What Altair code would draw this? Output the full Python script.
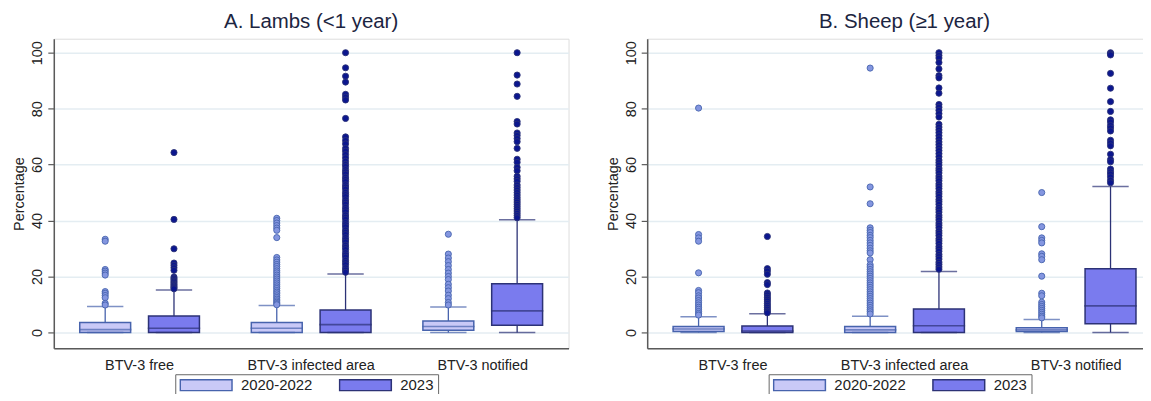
import altair as alt
import pandas as pd

groups = ["BTV-3 free", "BTV-3 infected area", "BTV-3 notified"]
periods = ["2020-2022", "2023"]

# box statistics, order: free 20-22, free 23, infected 20-22, infected 23, notified 20-22, notified 23
a_q1 = [0.0, 0.0, 0.0, 0.0, 0.8, 2.6]
a_med = [1.0, 1.5, 1.5, 2.8, 2.1, 7.7]
a_q3 = [3.5, 5.9, 3.5, 8.0, 4.1, 17.4]
a_lo = [0.0, 0.0, 0.0, 0.0, 0.0, 0.0]
a_hi = [9.3, 15.2, 9.6, 20.9, 9.1, 40.3]

a_out1 = [33.3, 32.6, 22.5, 21.9, 21.2, 20.5, 14.6, 14.0, 13.2, 12.4, 10.4, 9.8]
a_out2 = [64.3, 40.4, 29.9, 24.8, 24.0, 23.1, 22.2, 19.8, 19.3, 18.8, 18.3, 17.8, 17.3, 16.9, 16.4, 16.0, 15.6]
a_out3 = [40.8, 40.0, 39.1, 38.2, 37.3, 36.5, 33.9, 26.8, 25.9, 25.1, 24.3, 23.6, 22.8, 22.0, 21.3, 20.5,
          19.8, 19.1, 18.4, 17.7, 17.0, 16.3, 15.7, 15.0, 14.4, 13.8, 13.1, 12.5, 11.9, 11.3, 10.8, 10.3, 9.9]
a_out4 = [100.0, 94.6, 91.6, 89.5, 85.1, 84.1, 83.1, 76.5, 69.9, 68.6, 67.4, 65.8, 64.8, 63.6, 62.4, 61.2,
          60.1, 59.3, 58.2, 57.4, 56.6, 55.5, 54.7, 53.9, 52.8, 52.0, 51.2, 50.1, 49.3, 48.5, 47.4, 46.6,
          45.8, 44.7, 43.9, 43.1, 42.0, 41.2, 40.4, 39.3, 38.5, 37.7, 36.6, 35.8, 35.0, 33.9, 33.1, 32.3,
          31.2, 30.4, 29.6, 28.5, 27.7, 26.9, 25.8, 25.0, 24.2, 23.1, 22.3, 21.5]
a_out5 = [35.1, 28.0, 26.6, 25.3, 23.9, 22.5, 21.2, 20.0, 18.9, 17.2, 16.0, 14.8, 13.3, 12.1, 10.7, 9.8]
a_out6 = [100.0, 92.0, 88.8, 84.4, 75.4, 74.5, 71.3, 70.4, 69.3, 68.2, 65.8, 61.9, 60.8, 59.0, 57.8, 55.8,
          54.9, 54.0, 52.7, 51.8, 50.9, 50.0, 49.1, 48.2, 47.4, 46.6, 45.8, 45.0, 44.2, 43.4, 42.6, 41.8, 41.0]

b_q1 = [0.3, 0.0, 0.0, 0.0, 0.3, 3.1]
b_med = [1.2, 0.5, 0.9, 2.4, 0.9, 9.5]
b_q3 = [2.1, 2.3, 2.1, 8.4, 1.7, 22.8]
b_lo = [0.0, 0.0, 0.0, 0.0, 0.0, 0.0]
b_hi = [5.6, 6.7, 5.8, 21.8, 4.6, 52.2]

b_out1 = [80.2, 35.0, 33.8, 32.6, 21.3, 15.0, 14.2, 13.1, 12.3, 11.4, 10.6, 9.8, 9.0, 8.3, 7.5, 6.8, 6.2]
b_out2 = [34.3, 22.8, 21.9, 20.8, 17.8, 17.1, 14.1, 13.4, 12.6, 11.9, 11.2, 10.4, 9.7, 9.0, 8.3, 7.6, 7.0]
b_out3 = [94.5, 52.0, 46.0, 37.4, 36.5, 35.7, 34.7, 33.9, 32.9, 32.0, 31.1, 30.1, 29.2, 28.4, 26.0, 24.2,
          23.4, 22.5, 21.7, 20.9, 20.1, 19.3, 18.5, 17.7, 16.9, 16.1, 15.3, 14.5, 13.7, 12.9, 12.1, 11.3,
          10.5, 9.7, 8.9, 8.1, 7.4, 6.6]
b_out4 = [100.0, 99.0, 98.1, 96.5, 94.2, 91.8, 91.0, 87.4, 85.5, 81.5, 80.5, 79.4, 78.2, 77.0, 74.4, 73.4,
          72.4, 71.4, 70.3, 69.2, 68.1, 67.1, 66.0, 65.0, 63.9, 62.8, 61.6, 60.7, 59.8, 58.7, 57.9, 57.0,
          55.9, 55.1, 54.2, 53.1, 52.3, 51.4, 50.3, 49.5, 48.6, 47.5, 46.7, 45.8, 44.7, 43.9, 43.0, 41.9,
          41.1, 40.2, 39.1, 38.3, 37.4, 36.3, 35.5, 34.6, 33.5, 32.7, 31.8, 30.7, 29.9, 29.0, 27.9, 27.1,
          26.2, 25.1, 24.3, 23.4, 22.6]
b_out5 = [50.0, 37.8, 33.8, 32.9, 32.0, 28.1, 27.2, 26.0, 20.1, 14.0, 13.1, 10.8, 10.0, 9.3, 8.6, 7.9,
          7.2, 6.5, 5.8, 5.2]
b_out6 = [100.0, 99.6, 99.2, 92.6, 87.3, 82.5, 79.0, 76.0, 75.2, 74.0, 73.1, 72.0, 68.7, 67.7, 66.7, 63.7,
          61.8, 61.0, 58.4, 57.4, 56.6, 55.6, 54.4, 53.5]

FILL_RANGE = ["#c9c9f7", "#7a7bee"]
STROKE_RANGE = ["#4763ad", "#2c3276"]
POINT_RANGE = ["#8496e0", "#0b168f"]
FONT = "Liberation Sans"
Y_MIN, Y_MAX = -5.7, 105


def panel(q1, med, q3, lo, hi, outs, title):
    rows, orows = [], []
    for gi, g in enumerate(groups):
        for pi, p in enumerate(periods):
            k = gi * 2 + pi
            rows.append(dict(group=g, period=p, q1=q1[k], med=med[k], q3=q3[k], lo=lo[k], hi=hi[k]))
            for v in outs[k]:
                orows.append(dict(group=g, period=p, value=v))
    box = pd.DataFrame(rows)
    pts = pd.DataFrame(orows)

    x = alt.X("group:N", sort=groups,
              scale=alt.Scale(paddingInner=0, paddingOuter=0),
              axis=alt.Axis(title=None, ticks=False, labelAngle=0, labelFontSize=14.5,
                            labelPadding=10, labelColor="#222", grid=False,
                            domainColor="#5a5a5a", domainWidth=1.5, labelFont=FONT))
    xo = alt.XOffset("period:N", sort=periods,
                     scale=alt.Scale(domain=periods, paddingInner=0.26, paddingOuter=0.377))
    ysc = alt.Scale(domain=[Y_MIN, Y_MAX], nice=False, zero=False)
    yax = alt.Axis(title="Percentage", values=[0, 20, 40, 60, 80, 100], labelAngle=270,
                   labelAlign="center", labelBaseline="bottom", labelPadding=3,
                   labelFontSize=14.5, labelColor="#222", labelFont=FONT,
                   titleFontSize=14.5, titleFontWeight="normal", titleColor="#222",
                   titleFont=FONT, titlePadding=3,
                   tickSize=6, tickColor="#5a5a5a", tickWidth=1.2,
                   domainColor="#5a5a5a", domainWidth=1.5,
                   grid=True, gridColor="#e4edf2", gridWidth=1.5)
    leg = alt.Legend(title=None, orient="none", legendX=122, legendY=337, direction="horizontal",
                     symbolType="M-1,-0.42H3V0.42H-1Z", symbolSize=676, symbolStrokeWidth=1.5,
                     clipHeight=14,
                     labelFontSize=15, labelFont=FONT, labelColor="#222", labelOffset=34,
                     columnPadding=26, padding=4, strokeColor="#666", fillColor="#ffffff",
                     symbolOpacity=1)
    stroke = alt.Stroke("period:N", scale=alt.Scale(domain=periods, range=STROKE_RANGE), legend=leg)
    fill = alt.Fill("period:N", scale=alt.Scale(domain=periods, range=FILL_RANGE), legend=leg)

    base = alt.Chart(box)
    up = base.mark_rule(strokeWidth=1.3).encode(x=x, xOffset=xo, y=alt.Y("q3:Q", scale=ysc, axis=yax),
                                                 y2="hi:Q", stroke=stroke)
    down = base.mark_rule(strokeWidth=1.3).encode(x=x, xOffset=xo, y=alt.Y("lo:Q", scale=ysc, axis=yax),
                                                   y2="q1:Q", stroke=stroke)
    bars = base.mark_bar(strokeWidth=1.5).encode(x=x, xOffset=xo, y=alt.Y("q1:Q", scale=ysc, axis=yax),
                                                  y2="q3:Q", fill=fill, stroke=stroke)
    medt = base.mark_tick(filled=False, size=51, thickness=0.01, strokeWidth=1.6).encode(
        x=x, xOffset=xo, y=alt.Y("med:Q", scale=ysc, axis=yax), stroke=stroke)
    caphi = base.mark_tick(filled=False, size=35, thickness=0.01, strokeWidth=1.5).encode(
        x=x, xOffset=xo, y=alt.Y("hi:Q", scale=ysc, axis=yax), stroke=stroke)
    caplo = base.mark_tick(filled=False, size=35, thickness=0.01, strokeWidth=1.5).encode(
        x=x, xOffset=xo, y=alt.Y("lo:Q", scale=ysc, axis=yax), stroke=stroke)
    dots = alt.Chart(pts).mark_point(filled=True, size=38, strokeWidth=0.9, opacity=1).encode(
        x=x, xOffset=xo, y=alt.Y("value:Q", scale=ysc, axis=yax),
        color=alt.Color("period:N", scale=alt.Scale(domain=periods, range=POINT_RANGE), legend=None),
        stroke=stroke)
    return alt.layer(up, down, bars, medt, caplo, caphi, dots).properties(
        width=517, height=311,
        title=alt.TitleParams(title, fontSize=20.5, font=FONT, fontWeight="normal",
                              color="#1c2541", offset=6, anchor="middle"))


left = panel(a_q1, a_med, a_q3, a_lo, a_hi, [a_out1, a_out2, a_out3, a_out4, a_out5, a_out6],
             "A. Lambs (<1 year)")
right = panel(b_q1, b_med, b_q3, b_lo, b_hi, [b_out1, b_out2, b_out3, b_out4, b_out5, b_out6],
              "B. Sheep (\u22651 year)")

chart = alt.hconcat(left, right, spacing=35).resolve_scale(
    x="independent", y="independent", xOffset="independent",
    fill="independent", stroke="independent", color="independent"
).resolve_legend(fill="independent", stroke="independent", color="independent").configure_view(
    stroke=None
).configure(padding={"left": 3, "top": 3, "right": -20, "bottom": -5}, background="white")

chart.save("out.html", embed_options={"renderer": "svg", "actions": False})
